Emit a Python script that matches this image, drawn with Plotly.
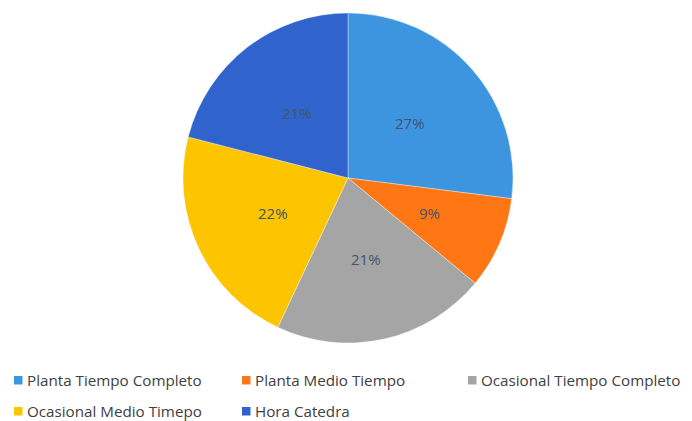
import math
import plotly.graph_objects as go

labels = ["Planta Tiempo Completo", "Planta Medio Tiempo", "Ocasional Tiempo Completo",
          "Ocasional Medio Timepo", "Hora Catedra"]
values = [27, 9, 21, 22, 21]
colors = ["#3d95e0", "#ff7714", "#a5a5a5", "#fdc400", "#3163cd"]

# page body has an 8px margin; work in figure coordinates
OFF = 8
W, H = 692 - OFF, 421 - OFF
cx, cy, R = 348 - OFF, 178 - OFF, 165

fig = go.Figure()
fig.add_trace(go.Pie(
    labels=labels, values=values, sort=False, direction="clockwise", rotation=0,
    marker=dict(colors=colors, line=dict(color="rgba(255,255,255,0.6)", width=0.6)),
    textinfo="none", hoverinfo="label+percent",
    hole=0, showlegend=False,
    domain=dict(x=[(cx - R) / W, (cx + R) / W], y=[1 - (cy + R) / H, 1 - (cy - R) / H]),
))

# percentage labels at about half radius, mid-angle of each slice (Excel style)
total = sum(values)
cum = 0.0
for v in values:
    mid = (cum + v / 2) / total * 2 * math.pi
    cum += v
    rr = 0.5 if v / total > 0.12 else 0.54
    px = cx + rr * R * math.sin(mid)
    py = cy - rr * R * math.cos(mid)
    fig.add_annotation(x=px / W, y=1 - py / H, xref="paper", yref="paper",
                       text=f"{round(v / total * 100)}%", showarrow=False,
                       xanchor="center", yanchor="middle",
                       font=dict(family="Open Sans, Liberation Sans", size=15, color="#44546a"))

# manual legend
leg_x = [14, 242, 468, 14, 242]
leg_y = [380, 380, 380, 411, 411]
for lab, col, lx, ly in zip(labels, colors, leg_x, leg_y):
    lx -= OFF
    ly -= OFF
    fig.add_shape(type="rect", xref="paper", yref="paper",
                  x0=lx / W, x1=(lx + 8.5) / W, y0=1 - (ly + 4.5) / H, y1=1 - (ly - 4) / H,
                  fillcolor=col, line=dict(width=0))
    fig.add_annotation(x=(lx + 11) / W, y=1 - ly / H, xref="paper", yref="paper",
                       text=lab, showarrow=False, xanchor="left", yanchor="middle",
                       font=dict(family="Open Sans, Liberation Sans", size=15.2, color="#404040"))

fig.update_layout(width=W, height=H, margin=dict(l=0, r=0, t=0, b=0),
                  paper_bgcolor="white", plot_bgcolor="white")
fig.write_html("out.html")
